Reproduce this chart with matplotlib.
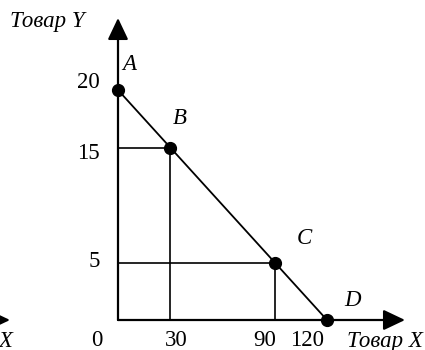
import matplotlib
matplotlib.use("Agg")
import matplotlib.pyplot as plt

# Production possibilities: points A-D
point_names = ["A", "B", "C", "D"]
good_x = [0, 30, 90, 120]
good_y = [20, 15, 5, 0]

x_ticks = [0, 30, 90, 120]
y_ticks = [5, 15, 20]
x_title = "Товар X"
y_title = "Товар Y"

plt.rcParams["font.family"] = ["Liberation Serif", "DejaVu Serif"]
plt.rcParams["font.size"] = 16.5

fig = plt.figure(figsize=(4.25, 3.5), dpi=100)
ax = fig.add_axes([0, 0, 1, 1])
ax.set_axis_off()

# scale: pixels per unit
px_x = 209 / 120
px_y = 230 / 20
ax.set_xlim(-118 / px_x, (425 - 118) / px_x)
ax.set_ylim(-30 / px_y, 320 / px_y)

# axes with arrows
arrow = dict(arrowstyle="-|>,head_length=0.8,head_width=0.38", color="black",
             lw=1.6, shrinkA=0, shrinkB=0)
ax.annotate("", xy=(0, 302 / px_y), xytext=(0, 0), arrowprops=arrow)
ax.annotate("", xy=(287 / px_x, 0), xytext=(0, 0), arrowprops=arrow)

# guide lines for B and C
for gx, gy in zip(good_x[1:3], good_y[1:3]):
    ax.plot([0, gx], [gy, gy], color="black", lw=1.2, solid_capstyle="butt")
    ax.plot([gx, gx], [0, gy], color="black", lw=1.2, solid_capstyle="butt")

# frontier
ax.plot(good_x, good_y, color="black", lw=1.3)
ax.plot(good_x, good_y, "o", color="black", ms=8.5, zorder=5)

# point labels
label_off = [(11, 26), (10, 29), (30, 24), (26, 19)]
for name, gx, gy, (dx, dy) in zip(point_names, good_x, good_y, label_off):
    ax.annotate(name, (gx, gy), xytext=(dx, dy), textcoords="offset pixels",
                ha="center", va="center", style="italic")

# tick labels
x_off = [-21, 6, -10, -20]
for v, dx in zip(x_ticks, x_off):
    ax.annotate(str(v), (v, 0), xytext=(dx, -21), textcoords="offset pixels",
                ha="center", va="center")
y_off = [1, -6, 8]
for v, dy in zip(y_ticks, y_off):
    ax.annotate(str(v), (0, v), xytext=(-18, dy),
                textcoords="offset pixels", ha="right", va="center")

# axis titles
fig.text(10 / 425, 1 - 22 / 350, y_title, ha="left", va="center", style="italic")
fig.text(423 / 425, 1 - 341 / 350, x_title, ha="right", va="center", style="italic")

# cropped leftovers at left edge
fig.text(13 / 425, 1 - 341 / 350, x_title, ha="right", va="center", style="italic")
ax.annotate("", xy=(-108 / px_x, 0), xytext=(-140 / px_x, 0), arrowprops=arrow,
            annotation_clip=False)

fig.savefig("out.png", dpi=100)
